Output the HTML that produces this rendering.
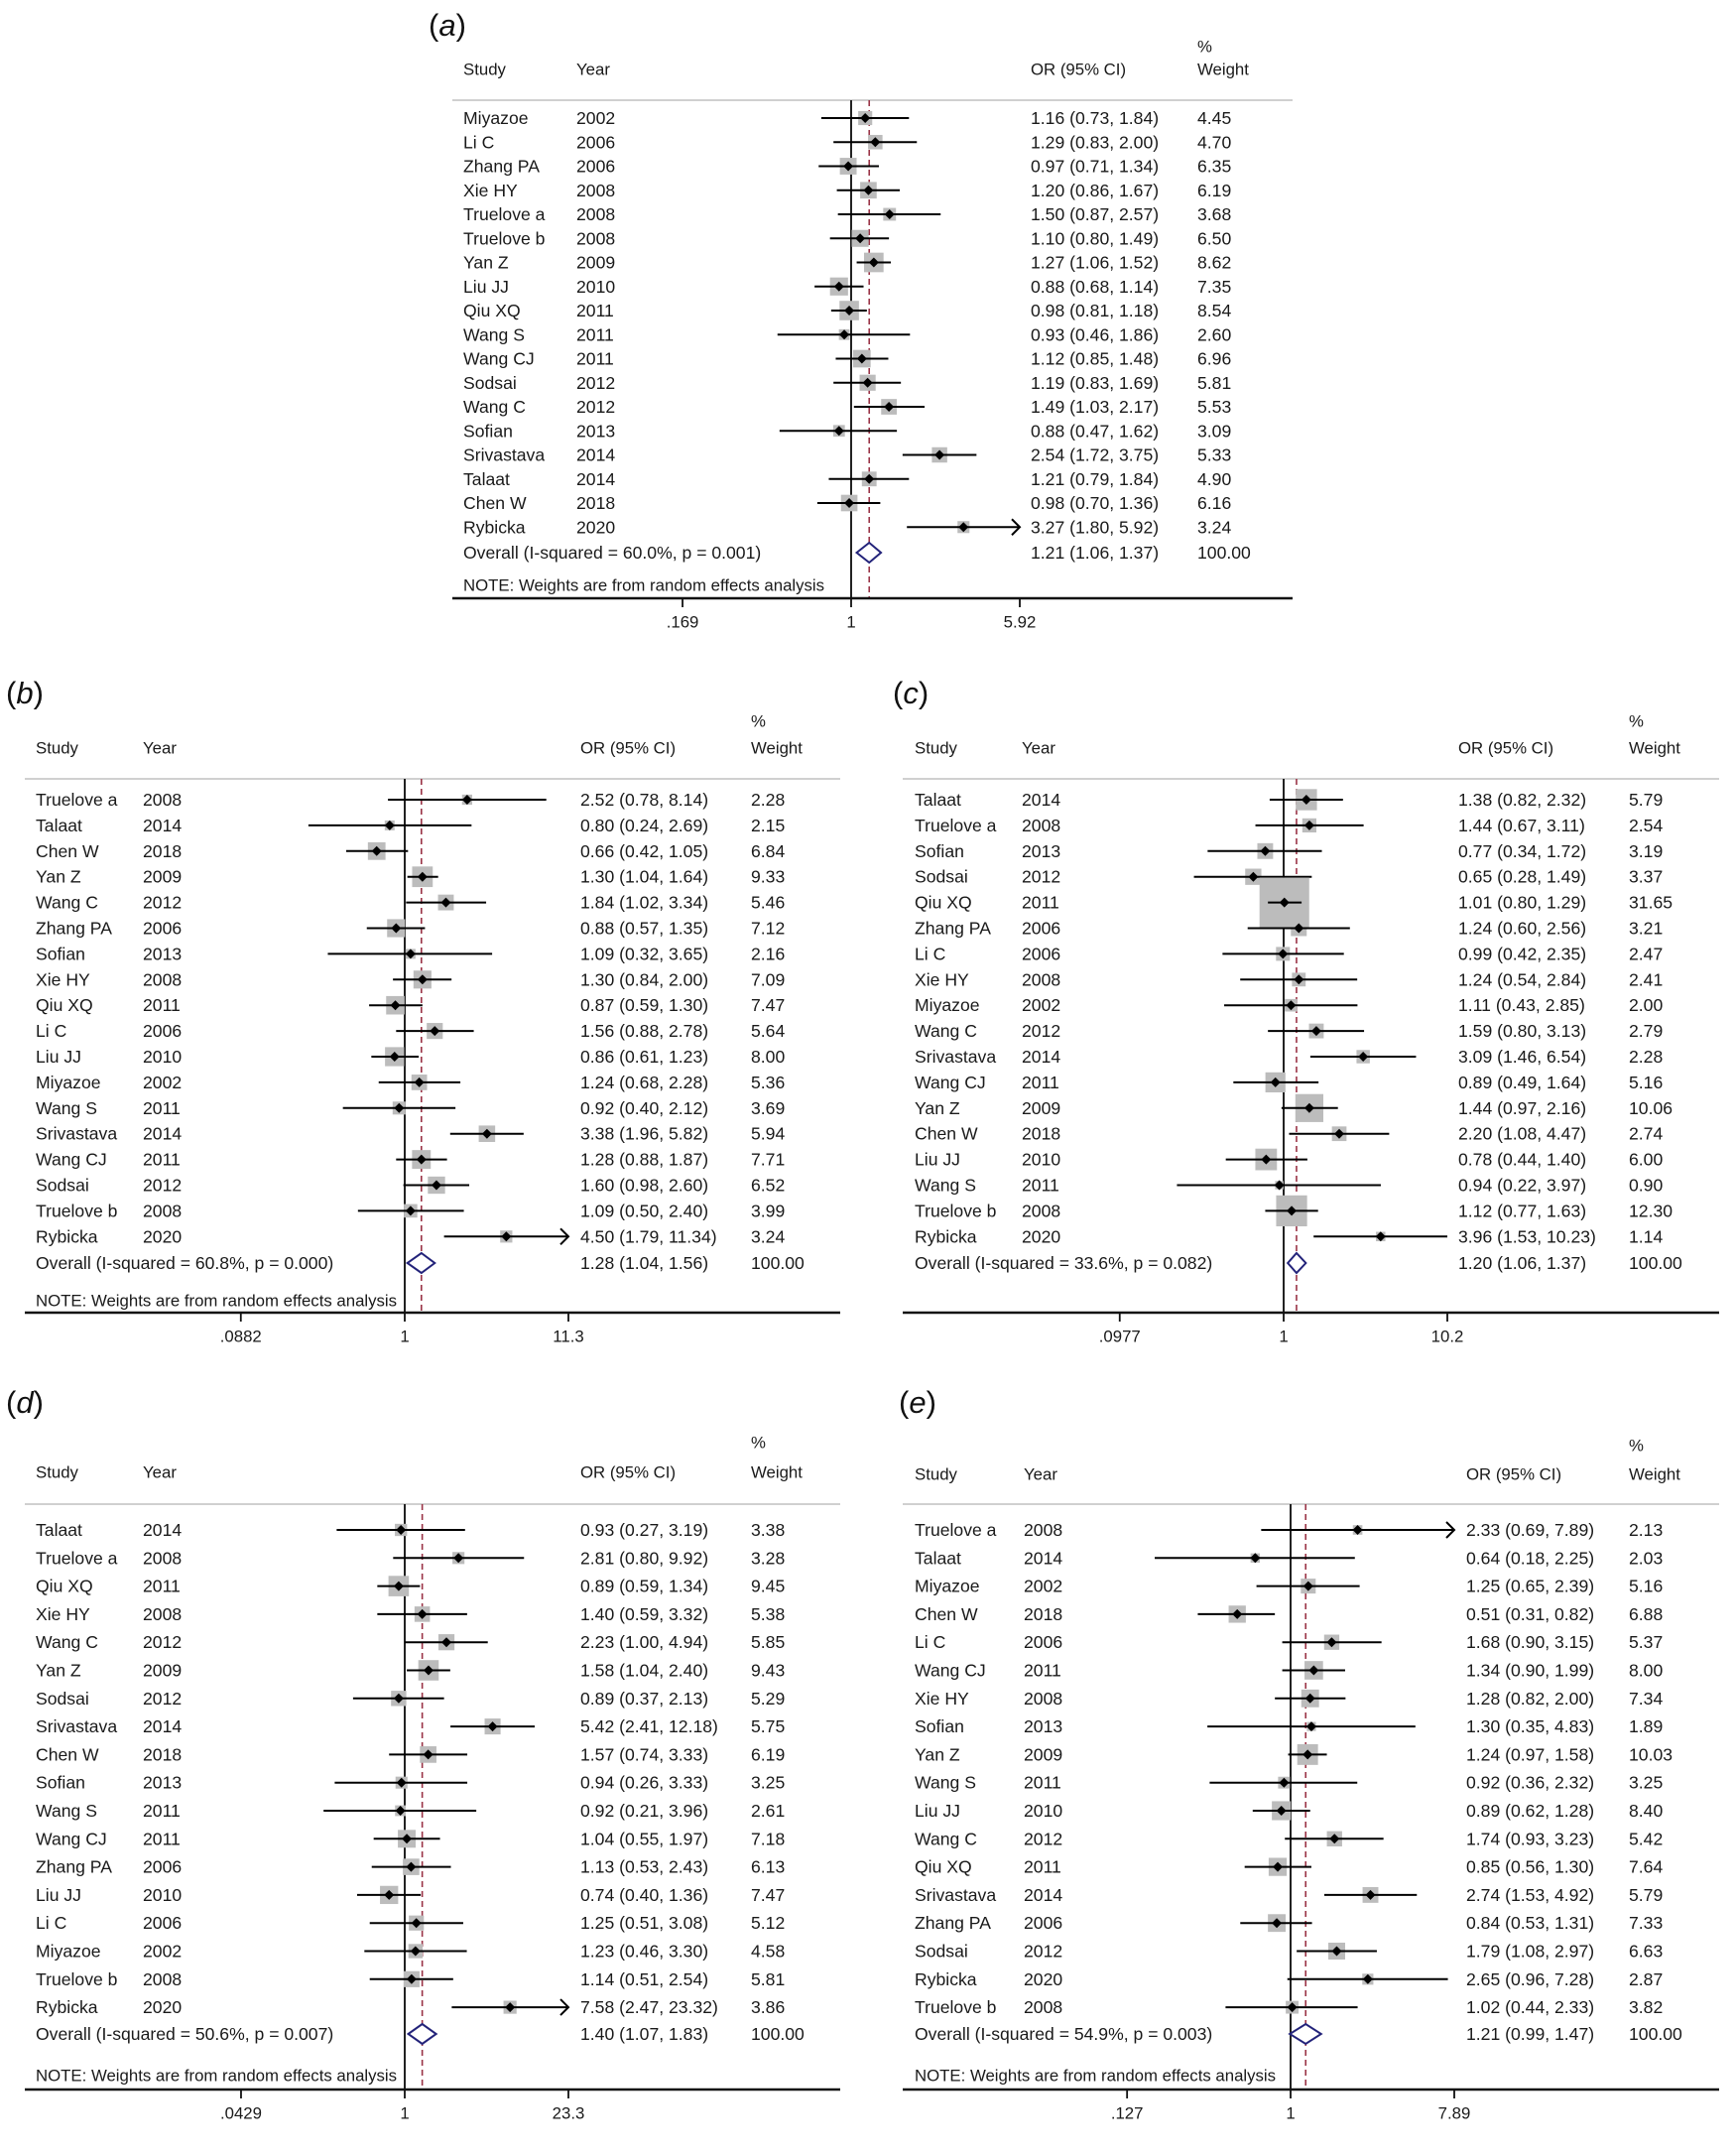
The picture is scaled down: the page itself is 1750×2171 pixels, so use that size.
<!DOCTYPE html>
<html><head><meta charset="utf-8">
<style>
html,body{margin:0;padding:0;background:#fff;}
svg{display:block;font-family:"Liberation Sans",Arial,sans-serif;}
</style></head>
<body>
<svg id="fig" width="1750" height="2171" viewBox="0 0 1750 2171" xmlns="http://www.w3.org/2000/svg"></svg>
<script>
// ---------- Panel (a) data ----------
const aStudies=["Miyazoe","Li C","Zhang PA","Xie HY","Truelove a","Truelove b","Yan Z","Liu JJ","Qiu XQ","Wang S","Wang CJ","Sodsai","Wang C","Sofian","Srivastava","Talaat","Chen W","Rybicka"];
const aYears=[2002,2006,2006,2008,2008,2008,2009,2010,2011,2011,2011,2012,2012,2013,2014,2014,2018,2020];
const aOR=[1.16,1.29,0.97,1.20,1.50,1.10,1.27,0.88,0.98,0.93,1.12,1.19,1.49,0.88,2.54,1.21,0.98,3.27];
const aLo=[0.73,0.83,0.71,0.86,0.87,0.80,1.06,0.68,0.81,0.46,0.85,0.83,1.03,0.47,1.72,0.79,0.70,1.80];
const aHi=[1.84,2.00,1.34,1.67,2.57,1.49,1.52,1.14,1.18,1.86,1.48,1.69,2.17,1.62,3.75,1.84,1.36,5.92];
const aW=[4.45,4.70,6.35,6.19,3.68,6.50,8.62,7.35,8.54,2.60,6.96,5.81,5.53,3.09,5.33,4.90,6.16,3.24];
const aArrow=[0,0,0,0,0,0,0,0,0,0,0,0,0,0,0,0,0,1];
const aOverall=[1.21,1.06,1.37];
const aHet="Overall  (I-squared = 60.0%, p = 0.001)";
const aTicks=[0.169,1,5.92];
const aTickLabels=[".169","1","5.92"];
// ---------- Panel (b) data ----------
const bStudies=["Truelove a","Talaat","Chen W","Yan Z","Wang C","Zhang PA","Sofian","Xie HY","Qiu XQ","Li C","Liu JJ","Miyazoe","Wang S","Srivastava","Wang CJ","Sodsai","Truelove b","Rybicka"];
const bYears=[2008,2014,2018,2009,2012,2006,2013,2008,2011,2006,2010,2002,2011,2014,2011,2012,2008,2020];
const bOR=[2.52,0.80,0.66,1.30,1.84,0.88,1.09,1.30,0.87,1.56,0.86,1.24,0.92,3.38,1.28,1.60,1.09,4.50];
const bLo=[0.78,0.24,0.42,1.04,1.02,0.57,0.32,0.84,0.59,0.88,0.61,0.68,0.40,1.96,0.88,0.98,0.50,1.79];
const bHi=[8.14,2.69,1.05,1.64,3.34,1.35,3.65,2.00,1.30,2.78,1.23,2.28,2.12,5.82,1.87,2.60,2.40,11.34];
const bW=[2.28,2.15,6.84,9.33,5.46,7.12,2.16,7.09,7.47,5.64,8.00,5.36,3.69,5.94,7.71,6.52,3.99,3.24];
const bArrow=[0,0,0,0,0,0,0,0,0,0,0,0,0,0,0,0,0,1];
const bOverall=[1.28,1.04,1.56];
const bHet="Overall  (I-squared = 60.8%, p = 0.000)";
const bTicks=[0.0882,1,11.3];
const bTickLabels=[".0882","1","11.3"];
// ---------- Panel (c) data ----------
const cStudies=["Talaat","Truelove a","Sofian","Sodsai","Qiu XQ","Zhang PA","Li C","Xie HY","Miyazoe","Wang C","Srivastava","Wang CJ","Yan Z","Chen W","Liu JJ","Wang S","Truelove b","Rybicka"];
const cYears=[2014,2008,2013,2012,2011,2006,2006,2008,2002,2012,2014,2011,2009,2018,2010,2011,2008,2020];
const cOR=[1.38,1.44,0.77,0.65,1.01,1.24,0.99,1.24,1.11,1.59,3.09,0.89,1.44,2.20,0.78,0.94,1.12,3.96];
const cLo=[0.82,0.67,0.34,0.28,0.80,0.60,0.42,0.54,0.43,0.80,1.46,0.49,0.97,1.08,0.44,0.22,0.77,1.53];
const cHi=[2.32,3.11,1.72,1.49,1.29,2.56,2.35,2.84,2.85,3.13,6.54,1.64,2.16,4.47,1.40,3.97,1.63,10.23];
const cW=[5.79,2.54,3.19,3.37,31.65,3.21,2.47,2.41,2.00,2.79,2.28,5.16,10.06,2.74,6.00,0.90,12.30,1.14];
const cArrow=[0,0,0,0,0,0,0,0,0,0,0,0,0,0,0,0,0,0];
const cOverall=[1.20,1.06,1.37];
const cHet="Overall  (I-squared = 33.6%, p = 0.082)";
const cTicks=[0.0977,1,10.2];
const cTickLabels=[".0977","1","10.2"];
// ---------- Panel (d) data ----------
const dStudies=["Talaat","Truelove a","Qiu XQ","Xie HY","Wang C","Yan Z","Sodsai","Srivastava","Chen W","Sofian","Wang S","Wang CJ","Zhang PA","Liu JJ","Li C","Miyazoe","Truelove b","Rybicka"];
const dYears=[2014,2008,2011,2008,2012,2009,2012,2014,2018,2013,2011,2011,2006,2010,2006,2002,2008,2020];
const dOR=[0.93,2.81,0.89,1.40,2.23,1.58,0.89,5.42,1.57,0.94,0.92,1.04,1.13,0.74,1.25,1.23,1.14,7.58];
const dLo=[0.27,0.80,0.59,0.59,1.00,1.04,0.37,2.41,0.74,0.26,0.21,0.55,0.53,0.40,0.51,0.46,0.51,2.47];
const dHi=[3.19,9.92,1.34,3.32,4.94,2.40,2.13,12.18,3.33,3.33,3.96,1.97,2.43,1.36,3.08,3.30,2.54,23.32];
const dW=[3.38,3.28,9.45,5.38,5.85,9.43,5.29,5.75,6.19,3.25,2.61,7.18,6.13,7.47,5.12,4.58,5.81,3.86];
const dArrow=[0,0,0,0,0,0,0,0,0,0,0,0,0,0,0,0,0,1];
const dOverall=[1.40,1.07,1.83];
const dHet="Overall  (I-squared = 50.6%, p = 0.007)";
const dTicks=[0.0429,1,23.3];
const dTickLabels=[".0429","1","23.3"];
// ---------- Panel (e) data ----------
const eStudies=["Truelove a","Talaat","Miyazoe","Chen W","Li C","Wang CJ","Xie HY","Sofian","Yan Z","Wang S","Liu JJ","Wang C","Qiu XQ","Srivastava","Zhang PA","Sodsai","Rybicka","Truelove b"];
const eYears=[2008,2014,2002,2018,2006,2011,2008,2013,2009,2011,2010,2012,2011,2014,2006,2012,2020,2008];
const eOR=[2.33,0.64,1.25,0.51,1.68,1.34,1.28,1.30,1.24,0.92,0.89,1.74,0.85,2.74,0.84,1.79,2.65,1.02];
const eLo=[0.69,0.18,0.65,0.31,0.90,0.90,0.82,0.35,0.97,0.36,0.62,0.93,0.56,1.53,0.53,1.08,0.96,0.44];
const eHi=[7.89,2.25,2.39,0.82,3.15,1.99,2.00,4.83,1.58,2.32,1.28,3.23,1.30,4.92,1.31,2.97,7.28,2.33];
const eW=[2.13,2.03,5.16,6.88,5.37,8.00,7.34,1.89,10.03,3.25,8.40,5.42,7.64,5.79,7.33,6.63,2.87,3.82];
const eArrow=[1,0,0,0,0,0,0,0,0,0,0,0,0,0,0,0,0,0];
const eOverall=[1.21,0.99,1.47];
const eHet="Overall  (I-squared = 54.9%, p = 0.003)";
const eTicks=[0.127,1,7.89];
const eTickLabels=[".127","1","7.89"];

const NS="http://www.w3.org/2000/svg";
const svg=document.getElementById('fig');
const FS=17.6, HFS=16.8;
function mk(tag,attrs,parent){const e=document.createElementNS(NS,tag);for(const k in attrs)e.setAttribute(k,attrs[k]);(parent||svg).appendChild(e);return e;}
function txt(parent,x,y,s,size,anchor){const t=mk('text',{x:x,y:y,'font-size':size||FS,fill:'#1a1a1a','dominant-baseline':'central','text-anchor':anchor||'start'},parent);t.textContent=s;return t;}

// layout only (no data)
const panels=[
 {id:'a',label:'(a)',lx:432,ly:25,pct:47,head:70,rule:101,rx0:456,rx1:1303,row0:119,dy:24.25,ov:557,note:590,axis:603,tl:627,cs:467,cy:581,co:1039,cw:1207,nx:858,span:170,bk:6.7,hasNote:true,
  st:aStudies,yr:aYears,or:aOR,lo:aLo,hi:aHi,w:aW,ar:aArrow,ovv:aOverall,het:aHet,tk:aTicks,tkl:aTickLabels},
 {id:'b',label:'(b)',lx:6,ly:698,pct:727,head:754,rule:785,rx0:25,rx1:847,row0:806,dy:25.9,ov:1273,note:1311,axis:1323,tl:1347,cs:36,cy:144,co:585,cw:757,nx:408,span:165,bk:6.8,hasNote:true,
  st:bStudies,yr:bYears,or:bOR,lo:bLo,hi:bHi,w:bW,ar:bArrow,ovv:bOverall,het:bHet,tk:bTicks,tkl:bTickLabels},
 {id:'c',label:'(c)',lx:900,ly:698,pct:727,head:754,rule:785,rx0:910,rx1:1733,row0:806,dy:25.9,ov:1273,note:1311,axis:1323,tl:1347,cs:922,cy:1030,co:1470,cw:1642,nx:1294,span:165,bk:8.9,hasNote:false,
  st:cStudies,yr:cYears,or:cOR,lo:cLo,hi:cHi,w:cW,ar:cArrow,ovv:cOverall,het:cHet,tk:cTicks,tkl:cTickLabels},
 {id:'d',label:'(d)',lx:6,ly:1413,pct:1454,head:1484,rule:1516,rx0:25,rx1:847,row0:1542,dy:28.3,ov:2050,note:2092,axis:2106,tl:2130,cs:36,cy:144,co:585,cw:757,nx:408,span:165,bk:6.7,hasNote:true,
  st:dStudies,yr:dYears,or:dOR,lo:dLo,hi:dHi,w:dW,ar:dArrow,ovv:dOverall,het:dHet,tk:dTicks,tkl:dTickLabels},
 {id:'e',label:'(e)',lx:906,ly:1413,pct:1457,head:1486,rule:1516,rx0:910,rx1:1733,row0:1542,dy:28.3,ov:2050,note:2092,axis:2106,tl:2130,cs:922,cy:1032,co:1478,cw:1642,nx:1301,span:165,bk:6.6,hasNote:true,
  st:eStudies,yr:eYears,or:eOR,lo:eLo,hi:eHi,w:eW,ar:eArrow,ovv:eOverall,het:eHet,tk:eTicks,tkl:eTickLabels}
];

panels.forEach(p=>{
  const g=mk('g',{});
  
  
  const lnMax=Math.log(p.tk[2]);
  const X=v=>p.nx+Math.log(v)/lnMax*p.span;
  const xmin=X(p.tk[0]), xmax=X(p.tk[2]);
  const lab=mk('text',{x:p.lx,y:p.ly,'font-size':31,fill:'#111','dominant-baseline':'central'},g);
  
  
  lab.innerHTML='(<tspan font-style="italic">'+p.id+'</tspan>)';
  const hs=txt(g,p.cs,p.head,'Study',HFS);  
  const hy=txt(g,p.cy,p.head,'Year',HFS);  
  const ho=txt(g,p.co,p.head,'OR (95% CI)',HFS);  
  const hp=txt(g,p.cw,p.pct,'%',HFS);  
  const hw=txt(g,p.cw,p.head,'Weight',HFS);  
  const rl=mk('line',{x1:p.rx0,x2:p.rx1,y1:p.rule,y2:p.rule,stroke:'#d0d0d0','stroke-width':2},g);
   
  const nl=mk('line',{x1:p.nx,x2:p.nx,y1:p.rule,y2:p.axis,stroke:'#222','stroke-width':2},g);
   
  const ox=X(p.ovv[0]);
  const dl=mk('line',{x1:ox,x2:ox,y1:p.rule,y2:p.axis,stroke:'#9a3346','stroke-width':1.6,'stroke-dasharray':'6,4'},g);
   
  p.st.forEach((s,i)=>{
    const y=p.row0+i*p.dy;
    const rg=mk('g',{},g);
    
    
    txt(rg,p.cs,y,s); txt(rg,p.cy,y,String(p.yr[i]));
    txt(rg,p.co,y,p.or[i].toFixed(2)+' ('+p.lo[i].toFixed(2)+', '+p.hi[i].toFixed(2)+')');
    txt(rg,p.cw,y,p.w[i].toFixed(2));
    const b=Math.sqrt(p.w[i])*p.bk, cx=X(p.or[i]);
    const box=mk('rect',{x:cx-b/2,y:y-b/2,width:b,height:b,fill:'#bcbcbc'},rg);
     
    const x1=Math.max(X(p.lo[i]),xmin), x2=Math.min(X(p.hi[i]),xmax);
    const ci=mk('line',{x1:x1,x2:x2,y1:y,y2:y,stroke:'#000','stroke-width':2},rg);
     
    if(p.ar[i]){
      const ah=mk('polyline',{points:(x2-8)+','+(y-8)+' '+x2+','+y+' '+(x2-8)+','+(y+8),fill:'none',stroke:'#000','stroke-width':2},rg);
       
    }
    const pt=mk('polygon',{points:(cx-5)+','+y+' '+cx+','+(y-5)+' '+(cx+5)+','+y+' '+cx+','+(y+5),fill:'#000'},rg);
     
  });
  const og=mk('g',{},g);
   
  txt(og,p.cs,p.ov,p.het);
  txt(og,p.co,p.ov,p.ovv[0].toFixed(2)+' ('+p.ovv[1].toFixed(2)+', '+p.ovv[2].toFixed(2)+')');
  txt(og,p.cw,p.ov,'100.00');
  const h=10;
  const dm=mk('polygon',{points:X(p.ovv[1])+','+p.ov+' '+ox+','+(p.ov-h)+' '+X(p.ovv[2])+','+p.ov+' '+ox+','+(p.ov+h),fill:'#fff',stroke:'#23237a','stroke-width':2},og);
   
  if(p.hasNote){const n=txt(g,p.cs,p.note,'NOTE: Weights are from random effects analysis',HFS);  }
  const ax=mk('line',{x1:p.rx0,x2:p.rx1,y1:p.axis,y2:p.axis,stroke:'#111','stroke-width':2.5},g);
   
  p.tk.forEach((v,k)=>{
    const tx=X(v);
    const t=mk('line',{x1:tx,x2:tx,y1:p.axis,y2:p.axis+9,stroke:'#111','stroke-width':1.8},g);
     
    const tl=txt(g,tx,p.tl,p.tkl[k],HFS,'middle');
     
  });
});
</script>
</body></html>
